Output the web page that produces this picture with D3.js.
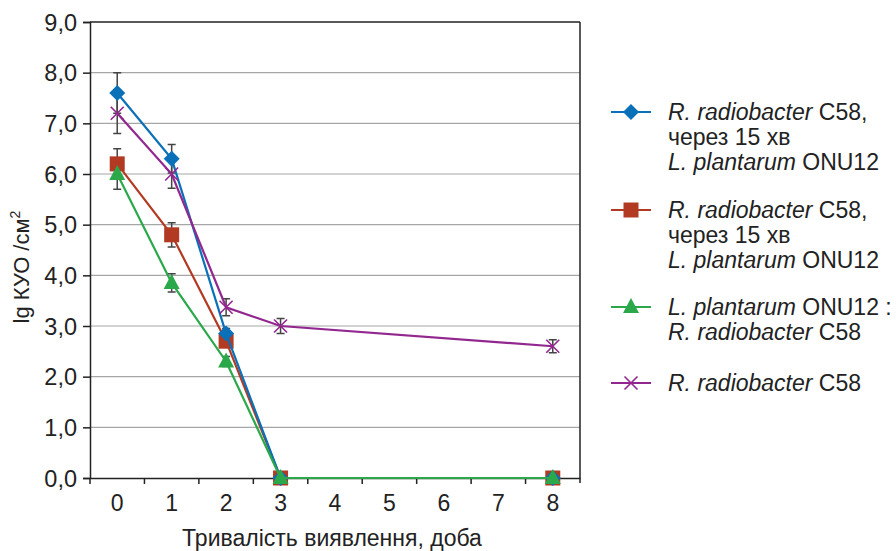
<!DOCTYPE html>
<html><head><meta charset="utf-8">
<script src="https://cdn.jsdelivr.net/npm/d3@7"></script>
<style>body{margin:0;background:#fff}text{font-family:"Liberation Sans",Arial,sans-serif;fill:#222}</style>
</head><body><svg id="c" width="896" height="551"></svg>
<script>
const categories = ["0","1","2","3","4","5","6","7","8"];
const yTicks = [0,1,2,3,4,5,6,7,8,9];
const days = ["0","1","2","3","8"];
const blueVals = [7.6, 6.3, 2.85, 0, 0];
const blueErr  = [0.4, 0.28, 0.1, 0, 0];
const redVals  = [6.2, 4.8, 2.7, 0, 0];
const redErr   = [0.3, 0.24, 0.1, 0, 0];
const greenVals= [6.0, 3.85, 2.3, 0, 0];
const greenErr = [0.3, 0.18, 0.1, 0, 0];
const purpleVals=[7.2, 6.0, 3.37, 3.0, 2.6];
const purpleErr= [0.4, 0.28, 0.17, 0.15, 0.13];
const legendLabels = [
  [[["R. radiobacter",1],[" C58,",0]],[["через 15 хв",0]],[["L. plantarum",1],[" ONU12",0]]],
  [[["R. radiobacter",1],[" C58,",0]],[["через 15 хв",0]],[["L. plantarum",1],[" ONU12",0]]],
  [[["L. plantarum",1],[" ONU12 :",0]],[["R. radiobacter",1],[" C58",0]]],
  [[["R. radiobacter",1],[" C58",0]]]
];

const svg = d3.select("#c");
const L=90,R=580,T=22,B=478;
const x = d3.scaleBand().domain(categories).range([L,R]).padding(0);
const y = d3.scaleLinear().domain([0,9]).range([B,T]);
const cx = c => x(c)+x.bandwidth()/2;
const fmt = v => d3.format(".1f")(v).replace(".",",");
const FF = "Liberation Sans, Arial, sans-serif";

// gridlines
svg.append("g").selectAll("line").data(yTicks.filter(d=>d>0&&d<9)).join("line")
  .attr("x1",L).attr("x2",R).attr("y1",d=>y(d)).attr("y2",d=>y(d))
  .attr("stroke","#a6a6a6").attr("stroke-width",1.2);
// top & right border
svg.append("line").attr("x1",L).attr("x2",R).attr("y1",T).attr("y2",T).attr("stroke","#222").attr("stroke-width",1.5);
svg.append("line").attr("x1",R).attr("x2",R).attr("y1",T).attr("y2",B+5).attr("stroke","#222").attr("stroke-width",1.5);

// y axis
const ya = svg.append("g").attr("transform",`translate(${L},0)`)
  .call(d3.axisLeft(y).tickValues(yTicks).tickFormat(fmt).tickSize(7).tickPadding(6));
ya.select(".domain").attr("stroke","#222").attr("stroke-width",1.5);
ya.selectAll(".tick line").attr("stroke","#222").attr("stroke-width",1.5);
ya.selectAll(".tick text").style("font-size","23.5px").style("font-family",FF).attr("fill","#222").attr("dy","0.35em");

// x axis
const xa = svg.append("g").attr("transform",`translate(0,${B})`)
  .call(d3.axisBottom(x).tickSize(0).tickPadding(17));
xa.select(".domain").attr("stroke","#222").attr("stroke-width",1.5);
xa.selectAll(".tick text").style("font-size","23px").style("font-family",FF).attr("fill","#222");
xa.append("g").selectAll("line").data(categories).join("line")
  .attr("x1",d=>x(d)).attr("x2",d=>x(d)).attr("y1",0).attr("y2",6).attr("stroke","#222").attr("stroke-width",1.5);

// axis titles
svg.append("text").attr("x",(L+R)/2-3).attr("y",546).attr("text-anchor","middle").style("font-size","23px").text("Тривалість виявлення, доба");
const yt = svg.append("text").attr("transform",`translate(29,${(T+B)/2+17}) rotate(-90)`).attr("text-anchor","middle").style("font-size","22px");
yt.append("tspan").text("lg КУО /см");
yt.append("tspan").attr("dy",-9).style("font-size","14px").text("2");

const series = [
  {name:"red", color:"#b23a23", vals:redVals, err:redErr, marker:"square"},
  {name:"blue", color:"#0a70b8", vals:blueVals, err:blueErr, marker:"diamond"},
  {name:"green", color:"#2aa84a", vals:greenVals, err:greenErr, marker:"triangle"},
  {name:"purple", color:"#92278f", vals:purpleVals, err:purpleErr, marker:"x"}
];
const line = d3.line().x(d=>cx(d.c)).y(d=>y(d.v));

function drawMarker(g, type, color, px, py){
  if(type==="square") g.append("rect").attr("x",px-7.5).attr("y",py-7.5).attr("width",15).attr("height",15).attr("fill",color);
  else if(type==="diamond") g.append("path").attr("d",`M${px},${py-8}L${px+8},${py}L${px},${py+8}L${px-8},${py}Z`).attr("fill",color);
  else if(type==="triangle") g.append("path").attr("d",`M${px},${py-9}L${px+8},${py+6}L${px-8},${py+6}Z`).attr("fill",color);
  else g.append("path").attr("d",`M${px-6.5},${py-6.5}L${px+6.5},${py+6.5}M${px+6.5},${py-6.5}L${px-6.5},${py+6.5}`).attr("stroke",color).attr("stroke-width",1.6).attr("fill","none");
}

// error bars first
series.forEach(s=>{
  const g = svg.append("g");
  s.vals.forEach((v,i)=>{
    const e=s.err[i]; if(!e) return;
    const px=cx(days[i]);
    g.append("path").attr("d",`M${px},${y(v-e)}V${y(v+e)}M${px-4},${y(v-e)}H${px+4}M${px-4},${y(v+e)}H${px+4}`)
      .attr("stroke","#444").attr("stroke-width",1.5).attr("fill","none");
  });
});
series.forEach(s=>{
  const data = s.vals.map((v,i)=>({c:days[i],v}));
  svg.append("path").datum(data).attr("d",line).attr("fill","none").attr("stroke",s.color).attr("stroke-width",2.2);
  const g = svg.append("g");
  data.forEach(d=>drawMarker(g,s.marker,s.color,cx(d.c),y(d.v)));
});

// legend
const legOrder=[1,0,2,3];
const legY=[112,210,307,383];
legOrder.forEach((si,k)=>{
  const s=series[si];
  const yy=legY[k];
  svg.append("line").attr("x1",611).attr("x2",651).attr("y1",yy).attr("y2",yy).attr("stroke",s.color).attr("stroke-width",2.2);
  drawMarker(svg.append("g"), s.marker, s.color, 631, yy);
  const t = svg.append("text").attr("x",668).attr("y",yy+8).style("font-size","23px");
  legendLabels[k].forEach((ln,j)=>{
    ln.forEach((part,p)=>{
      const ts=t.append("tspan").text(part[0]).style("font-style",part[1]?"italic":"normal");
      if(p===0){ ts.attr("x",668).attr("dy", j===0?0:25); }
    });
  });
});
</script></body></html>
